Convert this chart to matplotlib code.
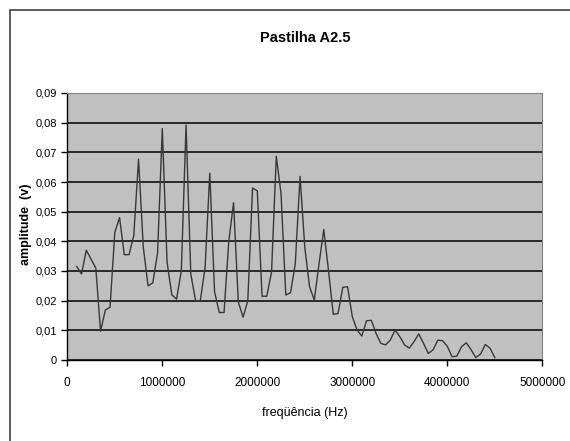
import matplotlib.pyplot as plt
from matplotlib.patches import Rectangle
from matplotlib.ticker import FuncFormatter, MultipleLocator

plt.rcParams['font.family'] = ['Liberation Sans', 'DejaVu Sans']

# frequency in Hz (50 kHz steps) and amplitude in V
freq = [100000 + 50000 * i for i in range(89)]
amp = [
    0.0315, 0.029, 0.037, 0.034, 0.031, 0.0097, 0.0168, 0.0178, 0.043, 0.048,
    0.0355, 0.0355, 0.042, 0.0677, 0.038, 0.025, 0.026, 0.036, 0.078, 0.033,
    0.022, 0.0205, 0.030, 0.0792, 0.029, 0.020, 0.020, 0.031, 0.063, 0.023,
    0.016, 0.016, 0.040, 0.053, 0.0196, 0.0144, 0.020, 0.058, 0.057, 0.0215,
    0.0215, 0.0297, 0.0687, 0.056, 0.0219, 0.0227, 0.0325, 0.0619, 0.038, 0.0247,
    0.0202, 0.0325, 0.044, 0.030, 0.0154, 0.0157, 0.0245, 0.0247, 0.0146, 0.0101,
    0.0081, 0.0132, 0.0134, 0.009, 0.0056, 0.0051, 0.0067, 0.0101, 0.0079, 0.0051,
    0.004, 0.0062, 0.0088, 0.0056, 0.0022, 0.0034, 0.0067, 0.0065, 0.0046, 0.0011,
    0.0013, 0.0045, 0.0058, 0.0035, 0.0008, 0.002, 0.0052, 0.004, 0.0008,
]

title = 'Pastilha A2.5'
xlabel = 'freqüência (Hz)'
ylabel = 'amplitude  (v)'

fig = plt.figure(figsize=(5.7, 4.41), dpi=100)
fig.patches.append(Rectangle((10 / 570, -0.1), 1.2, 1 - 10 / 441 + 0.1,
                             transform=fig.transFigure, fill=False,
                             edgecolor='#404040', linewidth=1.2))

ax = fig.add_axes([67.3 / 570, 1 - 360 / 441, 475 / 570, 267 / 441])
ax.set_facecolor('#c0c0c0')
ax.plot(freq, amp, color='#383838', linewidth=1.0, zorder=3)

ax.set_xlim(0, 5000000)
ax.set_ylim(0, 0.09)
ax.xaxis.set_major_locator(MultipleLocator(1000000))
ax.yaxis.set_major_locator(MultipleLocator(0.01))
ax.xaxis.set_major_formatter(FuncFormatter(lambda v, p: '%d' % round(v)))
ax.yaxis.set_major_formatter(
    FuncFormatter(lambda v, p: '0' if abs(v) < 1e-9 else ('%.2f' % v).replace('.', ',')))

ax.grid(axis='y', color='black', linewidth=1.1, zorder=1)
ax.set_axisbelow(True)
for side in ['top', 'right']:
    ax.spines[side].set_color('#808080')
    ax.spines[side].set_linewidth(0.8)
for side in ['left', 'bottom']:
    ax.spines[side].set_color('black')
    ax.spines[side].set_linewidth(1.0)
ax.tick_params(direction='out', length=4, width=1, labelsize=8.5)
ax.tick_params(axis='x', pad=8)
ax.tick_params(axis='y', labelsize=8, pad=3.5)

ax.text(0.5, (360 - 38) / 267, title, transform=ax.transAxes, ha='center', va='center',
        fontsize=10.5, fontweight='bold')
ax.set_xlabel(xlabel, fontsize=9)
ax.xaxis.set_label_coords(0.5, (360 - 407) / 267)
ax.set_ylabel(ylabel, fontsize=9, fontweight='bold')
ax.yaxis.set_label_coords((32 - 67.3) / 475, 0.51)

fig.savefig('out.png', dpi=100)
